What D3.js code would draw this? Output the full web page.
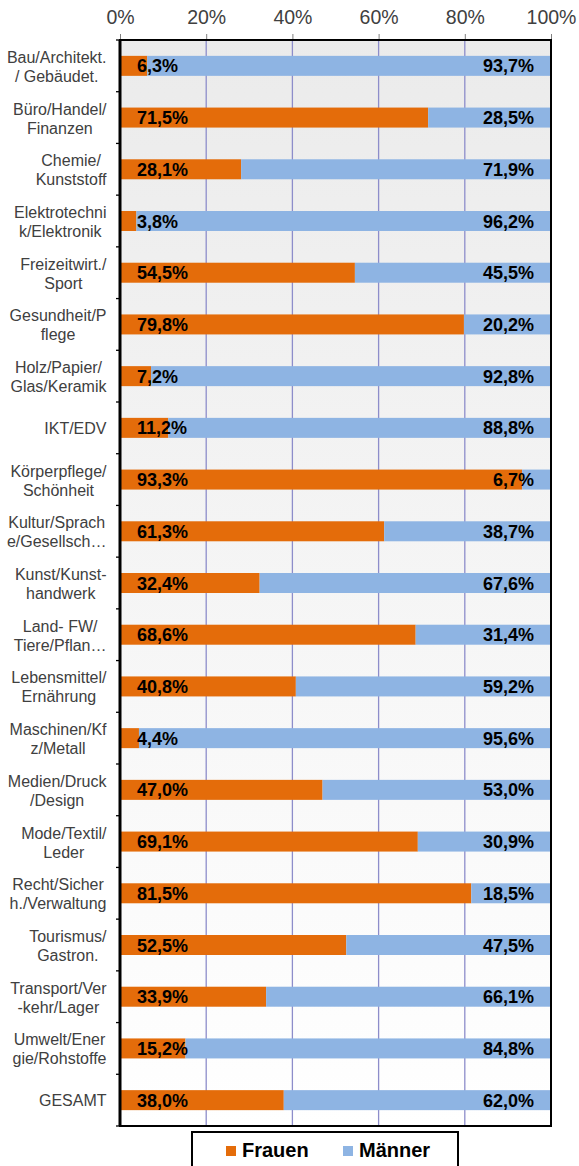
<!DOCTYPE html>
<html>
<head>
<meta charset="utf-8">
<title>Frauen / Männer nach Berufsbereich</title>
<script src="https://d3js.org/d3.v7.min.js"></script>
<style>
  html, body { margin:0; padding:0; background:#fff; }
  svg { display:block; font-family:"Liberation Sans", Arial, sans-serif; }
  .cat { fill:#404040; font-size:16px; }
  .tick-top { fill:#404040; font-size:19.5px; }
  .val { fill:#000; font-size:18px; font-weight:bold; }
</style>
</head>
<body>
<svg id="chart"></svg>
<script>
// categories, each split into the two lines shown on the axis
var categories = [
  ["Bau/Architekt.", "/ Gebäudet."],
  ["Büro/Handel/", "Finanzen"],
  ["Chemie/", "Kunststoff"],
  ["Elektrotechni", "k/Elektronik"],
  ["Freizeitwirt./", "Sport"],
  ["Gesundheit/P", "flege"],
  ["Holz/Papier/", "Glas/Keramik"],
  ["IKT/EDV"],
  ["Körperpflege/", "Schönheit"],
  ["Kultur/Sprach", "e/Gesellsch…"],
  ["Kunst/Kunst-", "handwerk"],
  ["Land- FW/", "Tiere/Pflan…"],
  ["Lebensmittel/", "Ernährung"],
  ["Maschinen/Kf", "z/Metall"],
  ["Medien/Druck", "/Design"],
  ["Mode/Textil/", "Leder"],
  ["Recht/Sicher", "h./Verwaltung"],
  ["Tourismus/", "Gastron."],
  ["Transport/Ver", "-kehr/Lager"],
  ["Umwelt/Ener", "gie/Rohstoffe"],
  ["GESAMT"]
];
var frauen = [6.3, 71.5, 28.1, 3.8, 54.5, 79.8, 7.2, 11.2, 93.3, 61.3, 32.4, 68.6, 40.8, 4.4, 47.0, 69.1, 81.5, 52.5, 33.9, 15.2, 38.0];
var maenner = [93.7, 28.5, 71.9, 96.2, 45.5, 20.2, 92.8, 88.8, 6.7, 38.7, 67.6, 31.4, 59.2, 95.6, 53.0, 30.9, 18.5, 47.5, 66.1, 84.8, 62.0];
var xTicks = [0, 20, 40, 60, 80, 100];
var seriesNames = ["Frauen", "Männer"];
var colors = ["#E46C0A", "#8EB4E3"];

var width = 579, height = 1166;
var plotL = 120, plotR = 551, plotT = 40, plotB = 1126;

var svg = d3.select("#chart").attr("width", width).attr("height", height);

var x = d3.scaleLinear().domain([0, 100]).range([plotL, plotR]);
var band = d3.scaleBand().domain(d3.range(categories.length)).range([plotT, plotB]);
var barH = 20;

// plot background gradient
var grad = svg.append("defs").append("linearGradient")
    .attr("id", "bg").attr("x1", 0).attr("y1", 0).attr("x2", 0).attr("y2", 1);
grad.append("stop").attr("offset", "0%").attr("stop-color", "#ebebeb");
grad.append("stop").attr("offset", "100%").attr("stop-color", "#ffffff");

svg.append("rect")
    .attr("x", plotL).attr("y", plotT)
    .attr("width", plotR - plotL).attr("height", plotB - plotT)
    .attr("fill", "url(#bg)");

// vertical grid lines
svg.append("g").selectAll("line")
  .data(xTicks.filter(function(d) { return d > 0 && d < 100; }))
  .enter().append("line")
    .attr("x1", function(d) { return x(d); })
    .attr("x2", function(d) { return x(d); })
    .attr("y1", plotT).attr("y2", plotB)
    .attr("stroke", "#8d8dca").attr("stroke-width", 1.3);

// top axis
var topAxis = d3.axisTop(x).tickValues(xTicks).tickSize(6).tickPadding(10)
    .tickFormat(function(d) { return d + "%"; });
var ta = svg.append("g").attr("transform", "translate(0," + plotT + ")").call(topAxis);
ta.attr("font-family", null).attr("font-size", null);
ta.select(".domain").remove();
ta.selectAll(".tick line").attr("stroke", "#808080");
ta.selectAll(".tick text").attr("class", "tick-top").attr("fill", null);

// bars
var rows = svg.append("g").selectAll("g").data(categories).enter().append("g");

function barY(i) { return band(i) + band.bandwidth() / 2 - barH / 2; }

rows.append("rect")
    .attr("x", x(0))
    .attr("y", function(d, i) { return barY(i); })
    .attr("width", function(d, i) { return x(frauen[i]) - x(0); })
    .attr("height", barH)
    .attr("fill", colors[0]);

rows.append("rect")
    .attr("x", function(d, i) { return x(frauen[i]); })
    .attr("y", function(d, i) { return barY(i); })
    .attr("width", function(d, i) { return x(frauen[i] + maenner[i]) - x(frauen[i]); })
    .attr("height", barH)
    .attr("fill", colors[1]);

function fmt(v) { return v.toFixed(1).replace(".", ",") + "%"; }

rows.append("text").attr("class", "val")
    .attr("x", x(0) + 17)
    .attr("y", function(d, i) { return barY(i) + barH / 2 + 6.5; })
    .text(function(d, i) { return fmt(frauen[i]); });

rows.append("text").attr("class", "val")
    .attr("x", x(100) - 17)
    .attr("text-anchor", "end")
    .attr("y", function(d, i) { return barY(i) + barH / 2 + 6.5; })
    .text(function(d, i) { return fmt(maenner[i]); });

// category labels: lines centred on each other, block right-aligned
rows.each(function(lines, i) {
  var g = d3.select(this);
  var cy = band(i) + band.bandwidth() / 2;
  var texts = lines.map(function(l, j) {
    var base = lines.length === 1 ? cy + 6 : cy - 3 + j * 19;
    return g.append("text").attr("class", "cat").attr("y", base)
        .attr("text-anchor", "middle").text(l);
  });
  var maxW = d3.max(texts, function(t) { return t.node().getComputedTextLength(); });
  texts.forEach(function(t) { t.attr("x", 106.5 - maxW / 2); });
});

// left axis ticks at band boundaries
svg.append("g").selectAll("line")
  .data(d3.range(categories.length + 1))
  .enter().append("line")
    .attr("x1", plotL - 4).attr("x2", plotL)
    .attr("y1", function(d) { return plotT + d * band.bandwidth(); })
    .attr("y2", function(d) { return plotT + d * band.bandwidth(); })
    .attr("stroke", "#000").attr("stroke-width", 1.3);

// plot frame
svg.append("rect")
    .attr("x", plotL).attr("y", plotT)
    .attr("width", plotR - plotL).attr("height", plotB - plotT)
    .attr("fill", "none").attr("stroke", "#000").attr("stroke-width", 2);
svg.append("line")
    .attr("x1", plotL).attr("x2", plotL).attr("y1", plotT).attr("y2", plotB)
    .attr("stroke", "#000").attr("stroke-width", 3);

// legend
var legend = svg.append("g");
legend.append("rect")
    .attr("x", 192).attr("y", 1132).attr("width", 266).attr("height", 60)
    .attr("fill", "#fff").attr("stroke", "#000").attr("stroke-width", 2);
var legendX = [226, 343];
seriesNames.forEach(function(name, i) {
  legend.append("rect")
      .attr("x", legendX[i]).attr("y", 1146).attr("width", 10).attr("height", 10)
      .attr("fill", colors[i]);
  legend.append("text")
      .attr("x", legendX[i] + 16).attr("y", 1157)
      .attr("font-size", "20px").attr("font-weight", "bold").attr("fill", "#000")
      .text(name);
});
</script>
</body>
</html>
